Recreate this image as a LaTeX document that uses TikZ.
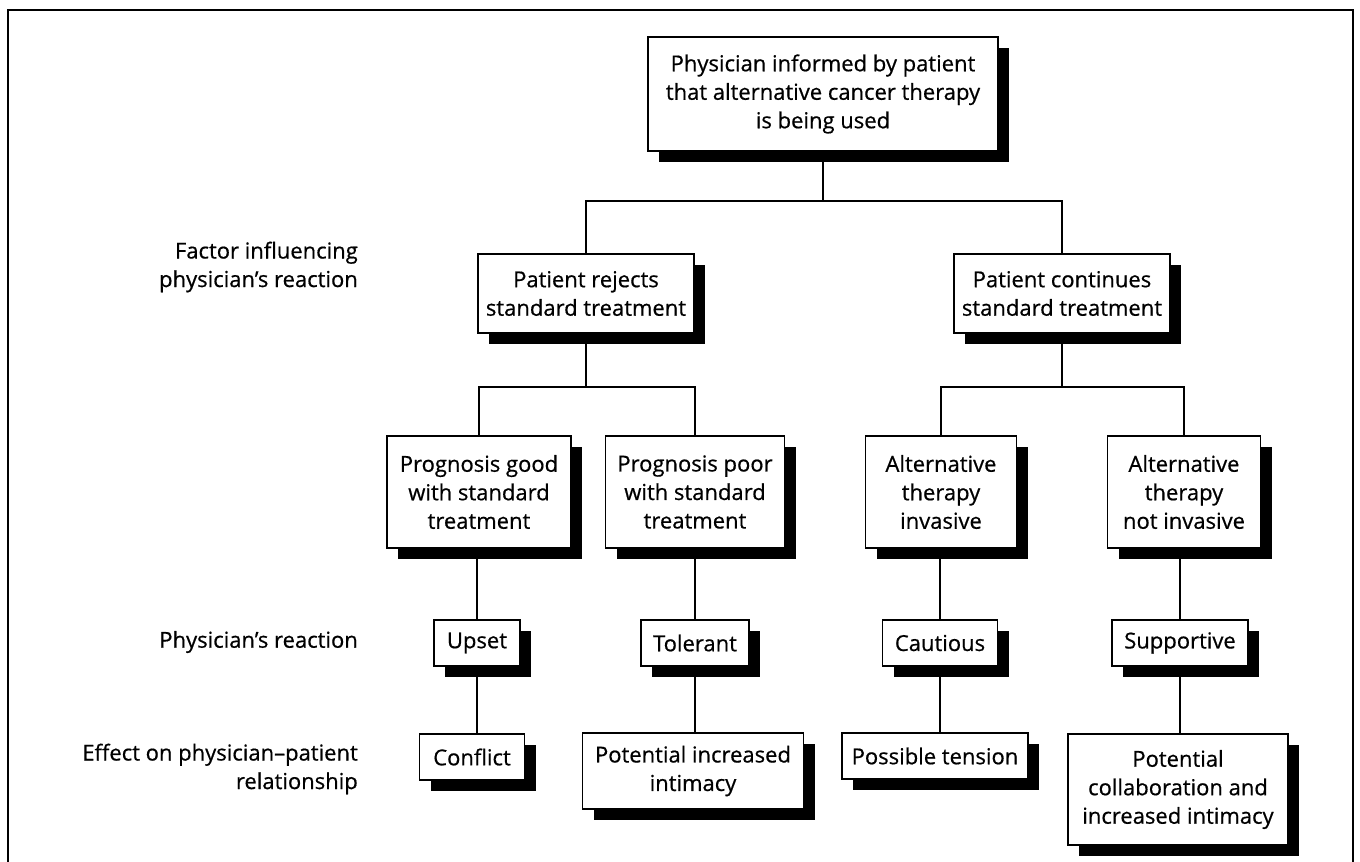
\documentclass[tikz,border=0pt]{standalone}
\usepackage{fontspec}
\setmainfont{Open Sans}[FakeBold=0.6]
\usetikzlibrary{shadows}
\tikzset{
  box/.style={draw=black, line width=1.2pt, fill=white, align=center, inner sep=0pt,
    drop shadow={shadow xshift=11pt, shadow yshift=-11pt, fill=black, opacity=1}},
  lbl/.style={anchor=east, align=right, inner sep=0pt},
  conn/.style={line width=1.2pt},
  frame/.style={line width=1.6pt},
}
\begin{document}
\begin{tikzpicture}[x=1pt, y=-1pt, font=\fontsize{22}{28.5}\selectfont]
\useasboundingbox (0,0) rectangle (1360,862);
\draw[frame] (8,862) -- (8,10) -- (1353,10) -- (1353,862);

% level 1
\node[box, minimum width=350pt, minimum height=114pt] (top) at (823,94)
  {Physician informed by patient\\that alternative cancer therapy\\is being used};
% level 2
\node[box, minimum width=216pt, minimum height=79pt] (rej) at (586,293.5)
  {Patient rejects\\standard treatment};
\node[box, minimum width=216pt, minimum height=79pt] (cont) at (1062,293.5)
  {Patient continues\\standard treatment};
% level 3
\node[box, minimum width=184pt, minimum height=112pt] (pgood) at (479,492)
  {Prognosis good\\with standard\\treatment};
\node[box, minimum width=179pt, minimum height=112pt] (ppoor) at (695,492)
  {Prognosis poor\\with standard\\treatment};
\node[box, minimum width=151pt, minimum height=112pt] (ainv) at (941,492)
  {Alternative\\therapy\\invasive};
\node[box, minimum width=153pt, minimum height=112pt] (anot) at (1184,492)
  {Alternative\\therapy\\not invasive};
% reactions
\node[box, minimum width=86pt, minimum height=46pt] (upset) at (477,643) {Upset};
\node[box, minimum width=108pt, minimum height=46pt] (toler) at (695,643) {Tolerant};
\node[box, minimum width=115pt, minimum height=46pt] (caut) at (940,643) {Cautious};
\node[box, minimum width=136pt, minimum height=46pt] (supp) at (1180,643) {Supportive};
% effects
\node[box, minimum width=105pt, minimum height=46pt] (confl) at (472,757) {Conflict};
\node[box, minimum width=221pt, minimum height=76pt] (pii) at (693,771)
  {Potential increased\\intimacy};
\node[box, minimum width=186pt, minimum height=46pt] (ptens) at (935,756) {Possible tension};
\node[box, minimum width=220pt, minimum height=111pt] (pcoll) at (1178,789.5)
  {Potential\\collaboration and\\increased intimacy};

% row labels
\node[lbl] (l1) at (358,267) {Factor influencing\\physician’s reaction};
\node[lbl] (l2) at (358,642) {Physician’s reaction};
\node[lbl] (l3) at (358,769) {Effect on physician–patient\\relationship};

% junctions
\coordinate (j1) at (823,201);
\coordinate (j2) at (586,387);
\coordinate (j3) at (1062,387);

% connectors
\draw[conn] (top.south) -- (j1);
\draw[conn] (rej.north) |- (j1) -| (cont.north);
\draw[conn] (rej.south) -- (j2);
\draw[conn] (pgood.north) |- (j2) -| (ppoor.north);
\draw[conn] (cont.south) -- (j3);
\draw[conn] (ainv.north) |- (j3) -| (anot.north);
\draw[conn] (upset.north) -- (upset.north |- pgood.south);
\draw[conn] (toler.north) -- (toler.north |- ppoor.south);
\draw[conn] (caut.north) -- (caut.north |- ainv.south);
\draw[conn] (supp.north) -- (supp.north |- anot.south);
\draw[conn] (upset.south) -- (upset.south |- confl.north);
\draw[conn] (toler.south) -- (toler.south |- pii.north);
\draw[conn] (caut.south) -- (caut.south |- ptens.north);
\draw[conn] (supp.south) -- (supp.south |- pcoll.north);
\end{tikzpicture}
\end{document}
